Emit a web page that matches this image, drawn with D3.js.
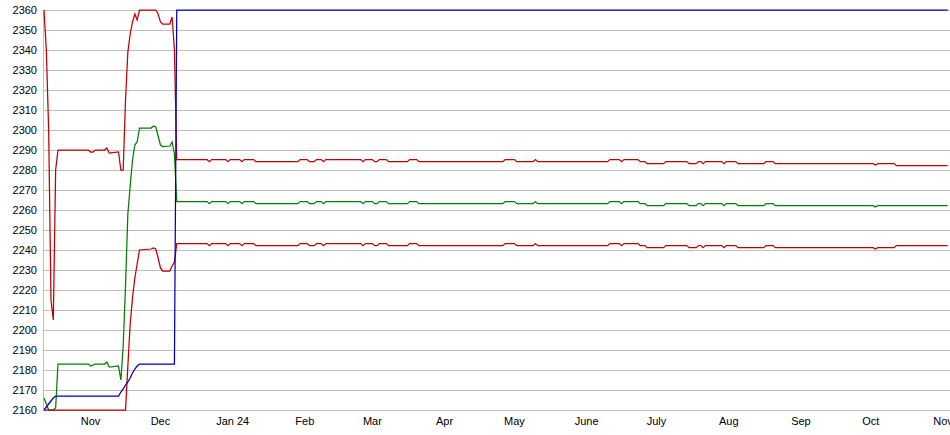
<!DOCTYPE html>
<html><head><meta charset="utf-8">
<script src="https://cdn.jsdelivr.net/npm/d3@7"></script>
<style>body{margin:0;background:#fff;} svg{display:block;font-family:"Liberation Sans",Arial,sans-serif;}</style>
</head><body><svg id="c" width="950" height="435"></svg>
<script>
// ---- data ----
const dates = [
 "2023-10-25","2023-10-26","2023-10-27","2023-10-28","2023-10-29","2023-10-30","2023-10-31",
 "2023-11-13","2023-11-14","2023-11-15","2023-11-16","2023-11-20","2023-11-21","2023-11-22",
 "2023-11-26","2023-11-27","2023-11-28","2023-11-29","2023-11-30","2023-12-01","2023-12-02",
 "2023-12-03","2023-12-04","2023-12-05","2023-12-10","2023-12-11","2023-12-12","2023-12-13",
 "2023-12-14","2023-12-15","2023-12-18","2023-12-19","2023-12-20","2023-12-21",
 "2024-01-03","2024-01-04","2024-01-05","2024-01-11","2024-01-12","2024-01-13","2024-01-17",
 "2024-01-18","2024-01-19","2024-01-23","2024-01-24","2024-02-11","2024-02-12","2024-02-15",
 "2024-02-16","2024-02-18","2024-02-19","2024-02-21","2024-02-22","2024-02-23","2024-03-09",
 "2024-03-10","2024-03-11","2024-03-14","2024-03-15","2024-03-16","2024-03-17","2024-03-20",
 "2024-03-21","2024-03-29","2024-03-30","2024-04-02","2024-04-03","2024-05-09","2024-05-10",
 "2024-05-14","2024-05-15","2024-05-22","2024-05-23","2024-05-24","2024-06-23","2024-06-24",
 "2024-06-28","2024-06-29","2024-06-30","2024-07-06","2024-07-07","2024-07-09","2024-07-10",
 "2024-07-17","2024-07-18","2024-07-27","2024-07-28","2024-07-31","2024-08-01","2024-08-02",
 "2024-08-03","2024-08-04","2024-08-11","2024-08-12","2024-08-13","2024-08-17","2024-08-18",
 "2024-08-29","2024-08-30","2024-09-02","2024-09-03","2024-10-15","2024-10-16","2024-10-17",
 "2024-10-24","2024-10-25","2024-11-16"
];
const blueValues = [
 2160,2161.5,2163,2164.5,2166,2167,2167,2167,2167,2167,2167,2167,2167,2167,
 2167,2169,2170.5,2172.5,2174,2176,2178.5,2180.5,2182,2183,2183,2183,2183,2183,
 2183,2183,2183,2183,2183,2360,
 2360,2360,2360,2360,2360,2360,2360,2360,2360,2360,2360,2360,2360,2360,2360,2360,
 2360,2360,2360,2360,2360,2360,2360,2360,2360,2360,2360,2360,2360,2360,2360,2360,
 2360,2360,2360,2360,2360,2360,2360,2360,2360,2360,2360,2360,2360,2360,2360,2360,
 2360,2360,2360,2360,2360,2360,2360,2360,2360,2360,2360,2360,2360,2360,2360,2360,
 2360,2360,2360,2360,2360,2360,2360,2360,2360
];
const redHighValues = [
 2360,2340,2300,2215,2205,2280,2290,2290,2289,2289,2290,2290,2291,2288.5,
 2289,2280,2280,2315,2339,2348,2354,2358,2355,2360,2360,2360,2360,2358,
 2354,2353,2353,2356.5,2340,2285.2,
 2285.2,2284.2,2285.2,2285.2,2284.2,2285.2,2285.2,2284.2,2285.2,2285.2,2284.2,2284.2,
 2285.2,2285.2,2284.2,2284.2,2285.2,2285.2,2284.2,2285.2,2285.2,2284.2,2285.2,2285.2,
 2284.2,2284.2,2285.2,2285.2,2284.2,2284.2,2285.2,2285.2,2284.2,2284.2,2285.2,2285.2,
 2284.2,2284.2,2285.2,2284.2,2284.2,2285.2,2285.2,2284.2,2285.2,2285.2,2284.2,2284.2,
 2283.2,2283.2,2284.2,2284.2,2283.2,2283.2,2284.2,2284.2,2283.2,2284.2,2284.2,2283.2,
 2284.2,2284.2,2283.2,2283.2,2284.2,2284.2,2283.2,2283.2,2282.5,2283.2,2283.2,2282.2,2282.2
];
const greenValues = [
 2166,2163,2160,2160,2160,2161,2183,2183,2182,2182.5,2183,2183,2184,2181.5,
 2182,2175,2192,2222,2258,2272,2285,2292.5,2294,2301,2301,2302,2301.5,2297,
 2292.5,2291.7,2292,2294,2288,2264.2,
 2264.2,2263.2,2264.2,2264.2,2263.2,2264.2,2264.2,2263.2,2264.2,2264.2,2263.2,2263.2,
 2264.2,2264.2,2263.2,2263.2,2264.2,2264.2,2263.2,2264.2,2264.2,2263.2,2264.2,2264.2,
 2263.2,2263.2,2264.2,2264.2,2263.2,2263.2,2264.2,2264.2,2263.2,2263.2,2264.2,2264.2,
 2263.2,2263.2,2264.2,2263.2,2263.2,2264.2,2264.2,2263.2,2264.2,2264.2,2263.2,2263.2,
 2262.2,2262.2,2263.2,2263.2,2262.2,2262.2,2263.2,2263.2,2262.2,2263.2,2263.2,2262.2,
 2263.2,2263.2,2262.2,2262.2,2263.2,2263.2,2262.2,2262.2,2261.5,2262.2,2262.2,2262.2,2262.2
];
const redLowValues = [
 2160,2160,2160,2160,2160,2160,2160,2160,2160,2160,2160,2160,2160,2160,
 2160,2160,2160,2160,2182,2203,2216,2226,2233,2240,2240.5,2241,2240.5,2236,
 2231,2229.5,2229.5,2232,2234,2243.2,
 2243.2,2242.2,2243.2,2243.2,2242.2,2243.2,2243.2,2242.2,2243.2,2243.2,2242.2,2242.2,
 2243.2,2243.2,2242.2,2242.2,2243.2,2243.2,2242.2,2243.2,2243.2,2242.2,2243.2,2243.2,
 2242.2,2242.2,2243.2,2243.2,2242.2,2242.2,2243.2,2243.2,2242.2,2242.2,2243.2,2243.2,
 2242.2,2242.2,2243.2,2242.2,2242.2,2243.2,2243.2,2242.2,2243.2,2243.2,2242.2,2242.2,
 2241.2,2241.2,2242.2,2242.2,2241.2,2241.2,2242.2,2242.2,2241.2,2242.2,2242.2,2241.2,
 2242.2,2242.2,2241.2,2241.2,2242.2,2242.2,2241.2,2241.2,2240.5,2241.2,2241.2,2242.2,2242.2
];
const yTickValues = [2160,2170,2180,2190,2200,2210,2220,2230,2240,2250,2260,2270,2280,2290,2300,2310,2320,2330,2340,2350,2360];
const monthLabels = ["Nov","Dec","Jan 24","Feb","Mar","Apr","May","June","July","Aug","Sep","Oct","Nov"];
const monthLabelDates = ["2023-11-14","2023-12-14","2024-01-14","2024-02-14","2024-03-14","2024-04-14","2024-05-14","2024-06-14","2024-07-14","2024-08-14","2024-09-14","2024-10-14","2024-11-14"];

(function () {
  const plotLeft = 44, plotRight = 950, plotTop = 10, plotBottom = 410;
  const svg = d3.select("#c");
  const x = d3.scaleUtc().domain([new Date("2023-10-25"), new Date("2024-11-17")]).range([plotLeft, plotRight]);
  const y = d3.scaleLinear().domain([2160, 2360]).range([plotBottom, plotTop]);

  // gridlines
  svg.append("g").selectAll("line").data(yTickValues).join("line")
    .attr("x1", plotLeft - 1).attr("x2", plotRight)
    .attr("y1", d => Math.round(y(d)) + 0.5).attr("y2", d => Math.round(y(d)) + 0.5)
    .attr("stroke", "#c0c0c0").attr("stroke-width", 1);
  // left axis line
  svg.append("line").attr("x1", plotLeft - 0.5).attr("x2", plotLeft - 0.5)
    .attr("y1", y(2360)).attr("y2", y(2160) + 1).attr("stroke", "#c0c0c0");

  // y labels
  svg.append("g").selectAll("text").data(yTickValues).join("text")
    .attr("x", 37).attr("y", d => y(d) + 0.5).attr("dy", "0.35em")
    .attr("text-anchor", "end").attr("font-size", 11).attr("fill", "#000")
    .text(d => d);

  // x labels
  svg.append("g").selectAll("text").data(monthLabels).join("text")
    .attr("x", (d, i) => x(new Date(monthLabelDates[i]))).attr("y", 425)
    .attr("text-anchor", "middle").attr("font-size", 11).attr("fill", "#000")
    .text(d => d);

  // series
  const parsed = dates.map(d => new Date(d));
  const series = [
    {vals: redHighValues, color: "#c00000"},
    {vals: greenValues, color: "#008000"},
    {vals: redLowValues, color: "#c00000"},
    {vals: blueValues, color: "#0000c0"}
  ];
  const line = d3.line().x(d => x(d[0])).y(d => y(d[1]));
  series.forEach(s => {
    svg.append("path")
      .attr("d", line(parsed.map((d, i) => [d, s.vals[i]])))
      .attr("fill", "none").attr("stroke", s.color).attr("stroke-width", 1.25);
  });
})();
</script></body></html>
